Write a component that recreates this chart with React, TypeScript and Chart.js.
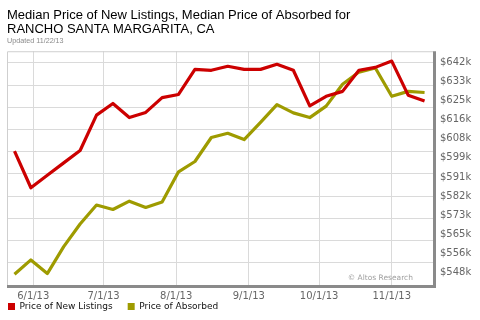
import React, { useEffect, useRef } from 'react';
import { Chart, registerables } from 'chart.js';

Chart.register(...registerables);

// Weekly sample dates
const weekDates = [
  '5/24/13', '5/31/13', '6/7/13', '6/14/13', '6/21/13', '6/28/13', '7/5/13', '7/12/13',
  '7/19/13', '7/26/13', '8/2/13', '8/9/13', '8/16/13', '8/23/13', '8/30/13', '9/6/13',
  '9/13/13', '9/20/13', '9/27/13', '10/4/13', '10/11/13', '10/18/13', '10/25/13', '11/1/13',
  '11/8/13', '11/15/13',
];

// Median price of new listings ($k)
const newListings = [
  602.2, 585.9, 591.5, 597.0, 602.5, 618.3, 623.5, 617.2, 619.5, 626.1, 627.5, 638.7, 638.3,
  640.1, 638.7, 638.7, 641.0, 638.3, 622.4, 626.7, 628.9, 638.3, 639.6, 642.4, 627.2, 624.6,
];

// Median price of absorbed ($k)
const absorbed = [
  547.3, 553.7, 547.6, 559.6, 569.7, 578.2, 576.2, 579.9, 577.1, 579.5, 593.0, 597.6, 608.3,
  610.2, 607.4, 615.1, 623.0, 619.3, 617.2, 622.3, 632.1, 637.5, 639.3, 626.7, 628.9, 628.4,
];

const xTickDates = ['6/1/13', '7/1/13', '8/1/13', '9/1/13', '10/1/13', '11/1/13'];
const xTickLabels = ['6/1/13', '7/1/13', '8/1/13', '9/1/13', '10/1/13', '11/1/13'];

const yTickValues = [548, 556.5, 565.1, 573.6, 582.2, 590.7, 599.3, 607.8, 616.4, 624.9, 633.5, 642];
const yTickLabels = ['$548k', '$556k', '$565k', '$573k', '$582k', '$591k', '$599k', '$608k', '$616k', '$625k', '$633k', '$642k'];

// Background grid lines (independent of the labelled ticks)
const gridLineValues = [0, 1, 2, 3, 4, 5, 6, 7, 8, 9, 10];

const titleLines = ['Median Price of New Listings, Median Price of Absorbed for', 'RANCHO SANTA MARGARITA, CA'];
const subtitleText = 'Updated 11/22/13';
const seriesNames = ['Price of New Listings', 'Price of Absorbed'];
const watermark = '\u00A9 Altos Research';

const RED = '#cc0000';
const OLIVE = '#9e9b00';

function dayOf(s: string): number {
  const [m, d, y] = s.split('/').map(Number);
  return (Date.UTC(2000 + y, m - 1, d) - Date.UTC(2013, 5, 1)) / 86400000;
}

const framePlugin = {
  id: 'frame',
  beforeDatasetsDraw(chart: any) {
    const { ctx, chartArea: a } = chart;
    ctx.save();
    ctx.strokeStyle = '#cfcfcf';
    ctx.lineWidth = 1;
    ctx.beginPath();
    ctx.moveTo(a.left + 0.5, a.bottom);
    ctx.lineTo(a.left + 0.5, a.top + 0.5);
    ctx.lineTo(a.right, a.top + 0.5);
    ctx.stroke();
    ctx.strokeStyle = '#8a8a8a';
    ctx.lineWidth = 3;
    ctx.beginPath();
    ctx.moveTo(a.right + 1.5, a.top);
    ctx.lineTo(a.right + 1.5, a.bottom + 3);
    ctx.moveTo(a.left, a.bottom + 1.5);
    ctx.lineTo(a.right + 3, a.bottom + 1.5);
    ctx.stroke();
    ctx.fillStyle = '#a0a0a0';
    ctx.font = '7.5px "DejaVu Sans"';
    ctx.textAlign = 'right';
    ctx.textBaseline = 'middle';
    ctx.fillText(watermark, a.right - 20, a.bottom - 7);
    ctx.restore();
  },
  beforeDraw(chart: any) {
    const lg = chart.legend;
    if (lg) {
      lg.left = chart.chartArea.left - lg.options.labels.padding + 1;
      lg.top = chart.chartArea.bottom + 2;
    }
  },
};

export default function App() {
  const ref = useRef<HTMLCanvasElement>(null);
  useEffect(() => {
    const canvas = ref.current;
    if (!canvas) return;
    const xs = weekDates.map(dayOf);
    const xTicks = xTickDates.map(dayOf);
    const chart = new Chart(canvas, {
      type: 'line',
      data: {
        datasets: [
          {
            label: seriesNames[0],
            data: xs.map((x, i) => ({ x, y: newListings[i] })),
            borderColor: RED,
            backgroundColor: RED,
            borderWidth: 3.2,
            pointRadius: 0,
            tension: 0,
            borderJoinStyle: 'round',
            yAxisID: 'y',
          },
          {
            label: seriesNames[1],
            data: xs.map((x, i) => ({ x, y: absorbed[i] })),
            borderColor: OLIVE,
            backgroundColor: OLIVE,
            borderWidth: 3.2,
            pointRadius: 0,
            tension: 0,
            borderJoinStyle: 'round',
            yAxisID: 'y',
          },
        ],
      },
      options: {
        animation: false,
        responsive: false,
        events: [],
        layout: { padding: { top: 0, left: 7, right: 0, bottom: 0 } },
        plugins: {
          title: {
            display: true,
            text: titleLines,
            align: 'start',
            color: '#000',
            font: { family: '"Liberation Sans", Arial, sans-serif', size: 13, weight: 'normal', lineHeight: 1.05 },
            padding: { top: 8.7, bottom: 0 },
          },
          subtitle: {
            display: true,
            text: subtitleText,
            align: 'start',
            color: '#8a8a8a',
            font: { family: '"Liberation Sans", sans-serif', size: 7.2, weight: 'normal', lineHeight: 1.2 },
            padding: { top: 0.8, bottom: 5.8 },
          },
          legend: {
            display: true,
            position: 'bottom',
            align: 'start',
            maxHeight: 18,
            labels: {
              boxWidth: 7,
              boxHeight: 7,
              padding: 15,
              color: '#111',
              font: { family: '"DejaVu Sans"', size: 9 },
              generateLabels: (c: any) =>
                Chart.defaults.plugins.legend.labels.generateLabels(c).map((l: any) => ({ ...l, lineWidth: 0 })),
            },
          },
          tooltip: { enabled: false },
        },
        scales: {
          x: {
            type: 'linear',
            min: -11.2,
            max: 170.6,
            afterBuildTicks: (s: any) => {
              s.ticks = xTicks.map((v) => ({ value: v }));
            },
            afterFit: (s: any) => {
              s.height = 17;
            },
            ticks: {
              autoSkip: false,
              maxRotation: 0,
              padding: 5,
              color: '#666',
              font: { family: '"DejaVu Sans"', size: 10 },
              callback: (_v: any, i: number) => xTickLabels[i],
            },
            grid: { color: '#dadada', drawTicks: false },
            border: { display: false },
          },
          y: {
            type: 'linear',
            position: 'right',
            min: 542.5,
            max: 646.8,
            afterBuildTicks: (s: any) => {
              s.ticks = yTickValues.map((v) => ({ value: v }));
            },
            afterFit: (s: any) => {
              s.width = 47;
            },
            ticks: {
              autoSkip: false,
              padding: 7,
              color: '#666',
              font: { family: '"DejaVu Sans"', size: 10 },
              callback: (_v: any, i: number) => yTickLabels[i],
            },
            grid: { display: false, drawTicks: false },
            border: { display: false },
          },
          g: {
            type: 'linear',
            position: 'right',
            min: 0,
            max: 10.52,
            afterBuildTicks: (s: any) => {
              s.ticks = gridLineValues.map((v) => ({ value: v }));
            },
            afterFit: (s: any) => {
              s.width = 0;
            },
            ticks: { display: false },
            grid: { color: '#dadada', drawTicks: false },
            border: { display: false },
          },
        },
      } as any,
      plugins: [framePlugin],
    });
    return () => chart.destroy();
  }, []);
  return (
    <div style={{ position: 'absolute', left: 0, top: 0, width: 480, height: 320, background: '#fff' }}>
      <canvas ref={ref} width={480} height={320} style={{ display: 'block', width: 480, height: 320 }} />
    </div>
  );
}
